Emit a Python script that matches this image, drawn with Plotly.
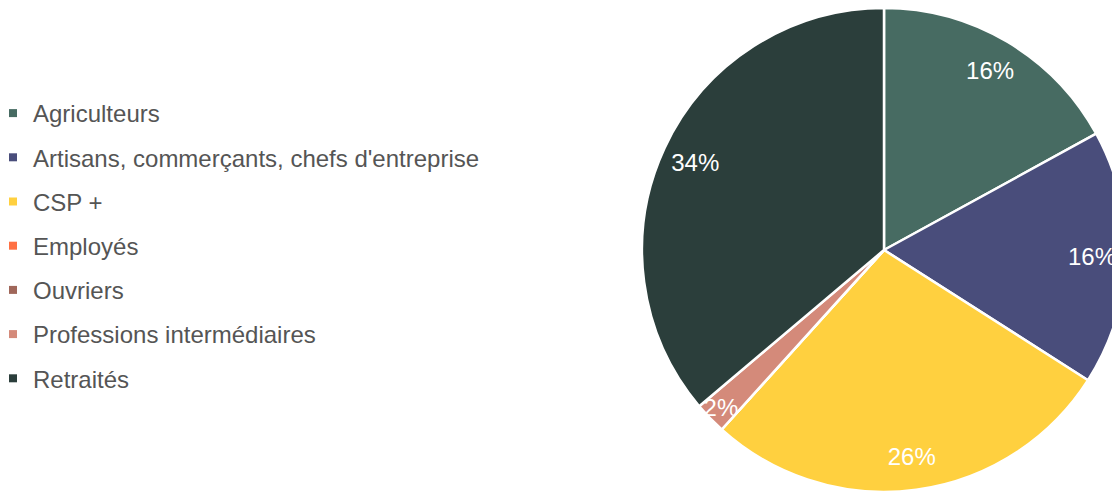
import plotly.graph_objects as go

categories = ["Agriculteurs", "Artisans, commerçants, chefs d'entreprise", "CSP +",
              "Employés", "Ouvriers", "Professions intermédiaires", "Retraités"]
values = [16, 16, 26, 0, 0, 2, 34]
pct_labels = ["16%", "16%", "26%", "", "", "2%", "34%"]
colors = ["#476b62", "#494d7b", "#ffd03f", "#ff7043", "#a0675a", "#d48a7a", "#2b3e3b"]

FONT = "Liberation Sans, Arial, sans-serif"
# the page body adds an 8px offset; domains below compensate for it
W, H = 1120, 493
pie_domain = dict(x=[634 / W, 1118 / W], y=[9 / H, 1.0])

fig = go.Figure()
# full pie with the slices
fig.add_trace(go.Pie(
    labels=categories, values=values, sort=False, direction="clockwise", rotation=0,
    marker=dict(colors=colors, line=dict(color="white", width=2.5)),
    textinfo="none", hoverinfo="label+value", showlegend=False,
    domain=pie_domain,
))
# transparent ring on top carrying the percentage labels near the rim
fig.add_trace(go.Pie(
    labels=categories, values=values, sort=False, direction="clockwise", rotation=0,
    hole=0.72,
    marker=dict(colors=["rgba(0,0,0,0)"] * len(values), line=dict(width=0)),
    text=pct_labels, textinfo="text", textposition="inside",
    insidetextorientation="horizontal",
    textfont=dict(color="white", size=24, family=FONT),
    hoverinfo="skip", showlegend=False,
    domain=pie_domain,
))
# legend entries
for name, col in zip(categories, colors):
    fig.add_trace(go.Scatter(
        x=[None], y=[None], mode="markers", name=name, legendgroup=name,
        marker=dict(symbol="square", size=8, color=col),
        hoverinfo="skip",
    ))

fig.update_layout(
    width=W, height=H,
    margin=dict(l=0, r=0, t=0, b=0, autoexpand=False),
    paper_bgcolor="white", plot_bgcolor="white",
    font=dict(family=FONT, color="#555555", size=24),
    xaxis=dict(visible=False), yaxis=dict(visible=False),
    uniformtext=dict(mode="show", minsize=24),
    legend=dict(x=-15 / W, y=1 - 238 / H, xanchor="left", yanchor="middle",
                font=dict(size=24, color="#555555"), tracegroupgap=10,
                itemsizing="trace", bgcolor="rgba(0,0,0,0)"),
    showlegend=True,
)

fig.write_html("out.html")
